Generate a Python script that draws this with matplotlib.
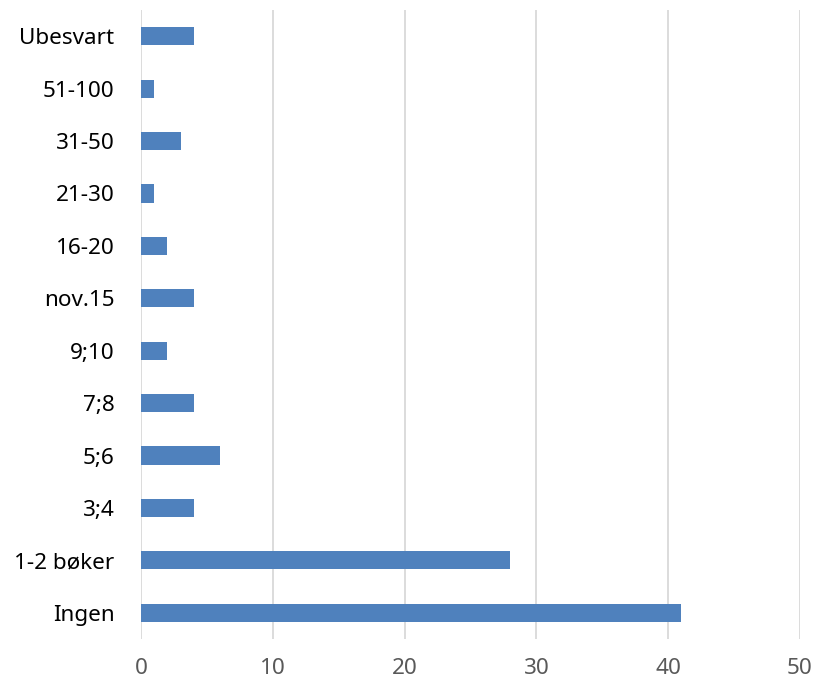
import matplotlib
matplotlib.use("Agg")
import matplotlib.pyplot as plt

# Data (bottom to top)
categories = ["Ingen", "1-2 bøker", "3;4", "5;6", "7;8", "9;10",
              "nov.15", "16-20", "21-30", "31-50", "51-100", "Ubesvart"]
values = [41, 28, 4, 6, 4, 2, 4, 2, 1, 3, 1, 4]
x_ticks = [0, 10, 20, 30, 40, 50]

plt.rcParams['font.family'] = ['Noto Sans', 'DejaVu Sans']

fig = plt.figure(figsize=(8.14, 6.8), dpi=100)
ax = fig.add_axes([141 / 814, 1 - 639 / 680, (800 - 141) / 814, (639 - 10) / 680])

ax.barh(range(len(categories)), values, height=0.345, color='#4F81BD', zorder=3)

ax.set_xlim(0, 50)
ax.set_ylim(-0.5, len(categories) - 0.5)
ax.set_xticks(x_ticks)
ax.set_yticks(range(len(categories)))
ax.set_yticklabels(categories)

ax.grid(axis='x', color='#D9D9D9', linewidth=1.3, zorder=0)
ax.grid(axis='y', visible=False)
for side in ['top', 'right', 'bottom', 'left']:
    ax.spines[side].set_visible(False)

ax.tick_params(axis='y', length=0, pad=19, labelsize=16.2, labelcolor='#000000')
ax.tick_params(axis='x', length=0, pad=14, labelsize=16.2, labelcolor='#595959')

fig.savefig("out.png", dpi=100)
